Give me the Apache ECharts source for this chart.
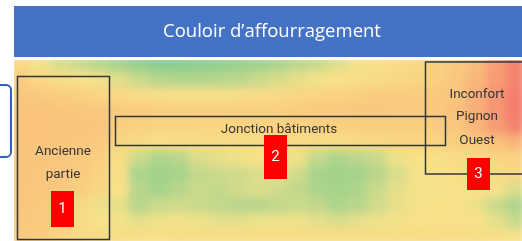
<!DOCTYPE html>
<html>
<head>
<meta charset="utf-8">
<title>Couloir d'affourragement</title>
<script src="https://cdn.jsdelivr.net/npm/echarts@6/dist/echarts.min.js"></script>
<style>
  html, body { margin: 0; padding: 0; background: #fff; }
  #page { position: relative; width: 522px; height: 241px; overflow: hidden; }
  /* heatmap layer, blurred a bit to get the smooth look of the photo */
  #clip { position: absolute; left: 14px; top: 60px; width: 508px; height: 181px; overflow: hidden; }
  #heat { position: absolute; left: -4px; top: -4px; width: 516px; height: 189px; filter: blur(4px); }
  #chart { position: absolute; left: 0; top: 0; width: 522px; height: 241px; }
</style>
</head>
<body>
<div id="page">
  <div id="clip"><div id="heat"></div></div>
  <div id="chart"></div>
</div>
<script>
// titre et zones
var titre = "Couloir d’affourragement";
var zone1 = ["Ancienne", "partie"];
var zone2 = ["Jonction bâtiments"];
var zone3 = ["Inconfort", "Pignon", "Ouest"];
var numeros = ["1", "2", "3"];

var ligne0  = [45,32,25,20,15,10,5,2,2,3,4,6,8,12,16,20,26,32,38,40,45,55,62,70,82,92];
var ligne1  = [55,46,40,36,32,26,20,15,13,13,14,16,20,24,28,32,36,40,42,45,48,55,62,72,82,92];
var ligne2  = [63,60,57,54,50,46,42,40,38,38,38,40,42,44,47,50,52,55,58,58,58,62,66,75,85,95];
var ligne3  = [67,67,66,64,62,60,58,56,55,55,55,55,55,55,58,60,60,62,62,60,60,62,68,75,85,95];
var ligne4  = [67,67,67,66,64,56,52,50,50,48,48,50,50,50,52,52,52,55,55,55,55,58,65,72,82,92];
var ligne5  = [67,67,66,64,60,48,42,38,40,42,42,40,40,42,42,42,40,42,45,48,50,50,55,60,68,72];
var ligne6  = [66,66,64,61,55,40,20,12,15,25,28,30,35,35,30,18,12,15,20,30,35,38,42,45,48,52];
var ligne7  = [66,65,63,60,52,38,12,8,10,18,20,22,25,28,22,10,8,10,15,25,32,35,38,40,42,45];
var ligne8  = [65,63,60,56,48,35,15,10,15,20,18,22,25,22,18,12,10,12,20,28,32,32,35,35,32,25];
var ligne9  = [64,61,56,45,30,28,15,20,22,20,18,15,15,18,20,18,12,15,22,28,32,35,35,30,20,12];
var ligne10 = [62,60,53,42,35,32,28,30,32,30,28,28,30,30,30,28,25,28,30,32,35,38,38,35,28,20];
var ligne11 = [60,57,50,45,42,40,38,38,40,40,40,40,40,40,40,40,40,40,40,40,42,42,42,40,38,35];
var lignes = [ligne0, ligne1, ligne2, ligne3, ligne4, ligne5, ligne6, ligne7, ligne8, ligne9, ligne10, ligne11];

var colonnes = ligne0.map(function (v, i) { return "c" + i; });
var rangees = lignes.map(function (v, i) { return "r" + i; });

var data = [];
lignes.forEach(function (ligne, r) {
  ligne.forEach(function (v, c) { data.push([c, r, v]); });
});

var heatChart = echarts.init(document.getElementById("heat"));
heatChart.setOption({
  animation: false,
  grid: { left: 0, right: 0, top: 0, bottom: 0 },
  xAxis: { type: "category", data: colonnes, show: false },
  yAxis: { type: "category", data: rangees, show: false, inverse: true },
  visualMap: {
    show: false,
    min: 0,
    max: 100,
    inRange: { color: ["#85cc8d", "#f8e38a", "#f9c47c", "#f4706b"] }
  },
  series: [{ type: "heatmap", data: data, itemStyle: { borderWidth: 0 } }]
});

// calque des annotations
var gris = "#363636";

function texte(x, y, t, size, color) {
  return {
    type: "text",
    x: x, y: y,
    style: {
      text: t, fill: color || gris, fontSize: size, fontFamily: "Roboto",
      align: "center", verticalAlign: "middle"
    }
  };
}
function cadre(x, y, w, h) {
  return {
    type: "rect",
    shape: { x: x, y: y, width: w, height: h },
    style: { fill: "none", stroke: gris, lineWidth: 1.5 }
  };
}
function pastille(x, y, w, h, t) {
  return [
    { type: "rect", shape: { x: x, y: y, width: w, height: h }, style: { fill: "#ff0000" } },
    texte(x + w / 2, y + h / 2, t, 15, "#ffffff")
  ];
}

var elements = [
  { type: "rect", shape: { x: 14, y: 6, width: 508, height: 51 }, style: { fill: "#4472c4" } },
  {
    type: "text", x: 272, y: 32,
    style: { text: titre, fill: "#ffffff", fontSize: 18.5, fontFamily: "Open Sans", align: "center", verticalAlign: "middle" }
  },
  { type: "rect", shape: { x: -20, y: 85, width: 31, height: 72, r: 5 }, style: { fill: "none", stroke: "#2e62b4", lineWidth: 2 } },
  cadre(17.5, 76.5, 92, 163),
  cadre(115.5, 116.5, 330, 29),
  cadre(425.5, 62, 110, 112)
];
elements.push(texte(63, 152, zone1[0], 13.5), texte(63, 175, zone1[1], 13.5));
elements.push(texte(279, 130, zone2[0], 13.5));
elements.push(texte(477, 95, zone3[0], 13.5), texte(477, 117, zone3[1], 13.5), texte(477, 141, zone3[2], 13.5));
elements = elements
  .concat(pastille(51, 191, 23, 36, numeros[0]))
  .concat(pastille(264, 135, 23, 44, numeros[1]))
  .concat(pastille(467, 158, 23, 32, numeros[2]));

var chart = echarts.init(document.getElementById("chart"));
chart.setOption({
  animation: false,
  backgroundColor: "transparent",
  graphic: elements
});
</script>
</body>
</html>
